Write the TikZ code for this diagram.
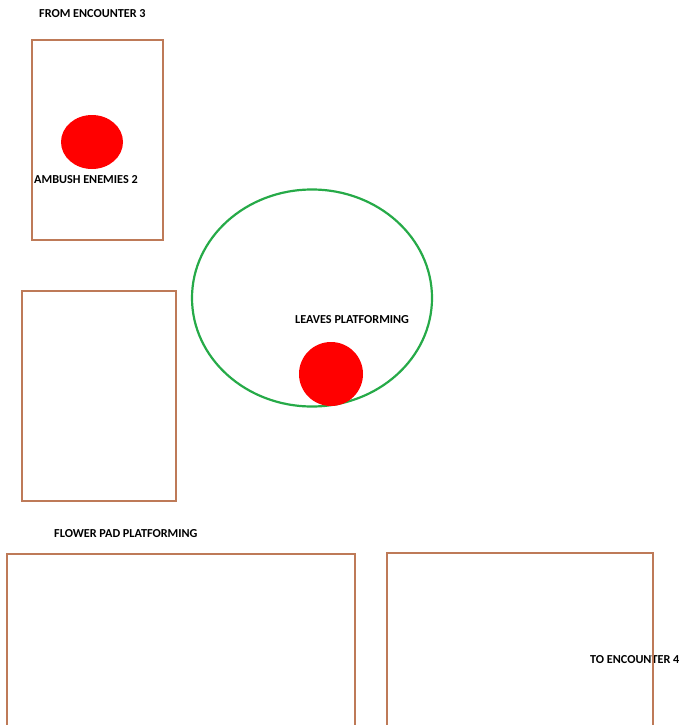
\documentclass[tikz,border=0pt]{standalone}
\usepackage{fontspec}
\setmainfont{Carlito}
\usepackage{xcolor}
\usetikzlibrary{positioning}
\definecolor{roombrown}{RGB}{190,122,88}
\definecolor{zonegreen}{RGB}{38,170,72}
\definecolor{enemyred}{RGB}{255,0,0}
\tikzset{
  room/.style={draw=roombrown, line width=2.8pt},
  label/.style={font=\fontsize{12.2}{14}\selectfont\bfseries, inner sep=0pt, anchor=west},
}

\begin{document}
\begin{tikzpicture}[x=1pt, y=-1pt]
  % Canvas
  \useasboundingbox (0,0) rectangle (678,725);
  \clip (0,0) rectangle (678,725);

  % Rooms
  \draw[room] (32,40) rectangle (163,240);
  \draw[room] (22,291) rectangle (176,501);
  \draw[room] (7,554) rectangle (355,740);

  % Leaves area
  \draw[draw=zonegreen, line width=2.2pt] (312,298) ellipse [x radius=120, y radius=108.5];

  % Enemies
  \fill[enemyred] (92,142) ellipse [x radius=31, y radius=27];
  \fill[enemyred] (331,374) circle [radius=32];

  % Labels
  \node[label] (from) at (39,14) {FROM ENCOUNTER 3};
  \node[label] (ambush) at (34,179.5) {AMBUSH ENEMIES 2};
  \node[label] (leaves) at (295,319.5) {LEAVES PLATFORMING};
  \node[label] (flower) at (54,534) {FLOWER PAD PLATFORMING};
  \node[label] (toenc) at (590,659.5) {TO ENCOUNTER 4};

  \draw[room] (387,553) rectangle (653,740);
\end{tikzpicture}
\end{document}
